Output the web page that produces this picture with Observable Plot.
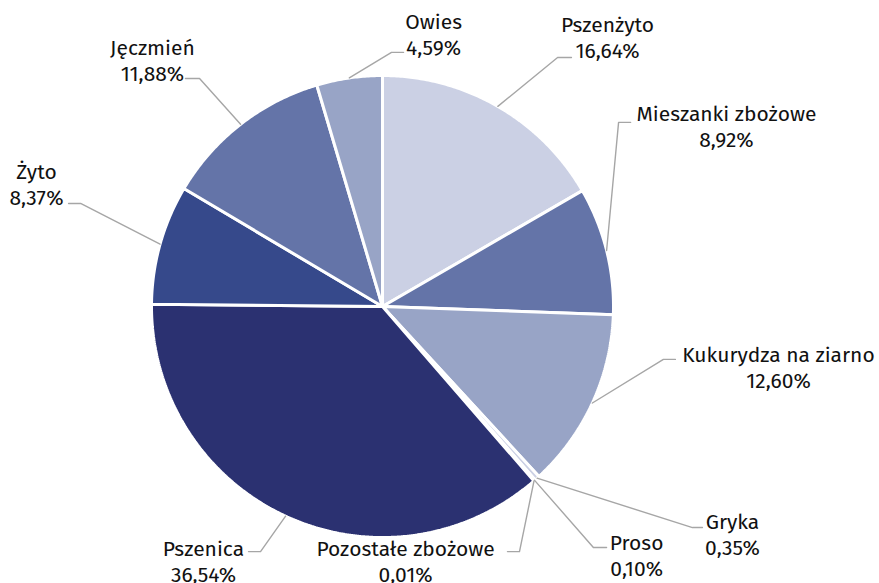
<!DOCTYPE html>
<html><head><meta charset="utf-8">
<script src="https://cdn.jsdelivr.net/npm/d3@7"></script>
<script src="https://cdn.jsdelivr.net/npm/@observablehq/plot@0.6"></script>
<style>body{margin:0;background:#fff}</style>
</head><body><div id="chart"></div>
<script>
// ---- data ----
const categories = ["Pszenżyto","Mieszanki zbożowe","Kukurydza na ziarno","Gryka","Proso","Pozostałe zbożowe","Pszenica","Żyto","Jęczmień","Owies"];
const shares = [16.64, 8.92, 12.60, 0.35, 0.10, 0.01, 36.54, 8.37, 11.88, 4.59];
const sliceColors = ["#cbd0e4","#6474a8","#98a4c6","#cbd0e4","#6474a8","#2b3171","#2b3171","#36498b","#6474a8","#98a4c6"];

// ---- label layout (in pie-radius units, y up) ----
const labelAt = [[0.974,1.167],[1.489,0.781],[1.714,-0.262],[1.515,-0.983],[1.100,-1.074],[0.100,-1.102],[-0.775,-1.102],[-1.498,0.532],[-0.996,1.069],[0.221,1.180]];
const elbowAt = [[0.758,1.078],[1.022,0.797],[1.216,-0.229],[1.342,-0.957],[0.913,-1.043],[0.593,-1.061],[-0.528,-1.061],[-1.307,0.446],[-0.792,0.987],[0.039,1.100]];
const endAt   = [[0.818,1.078],[1.074,0.797],[1.268,-0.229],[1.385,-0.957],[0.970,-1.043],[0.541,-1.061],[-0.580,-1.061],[-1.359,0.446],[-0.853,0.987],[0.091,1.100]];

const W = 879, H = 583, CX = 382, CY = 306, R = 231;

const fmt = v => d3.format(".2f")(v).replace(".", ",") + "%";
const arcs = d3.pie().sort(null).value(d => d)(shares);

const slicePts = [];
arcs.forEach((a, i) => {
  const n = Math.max(2, Math.ceil((a.endAngle - a.startAngle) / (Math.PI / 360)));
  slicePts.push({name: categories[i], color: sliceColors[i], x: 0, y: 0});
  for (let k = 0; k <= n; k++) {
    const t = a.startAngle + (a.endAngle - a.startAngle) * k / n;
    slicePts.push({name: categories[i], color: sliceColors[i], x: Math.sin(t), y: Math.cos(t)});
  }
});

const leaderPts = [];
arcs.forEach((a, i) => {
  const m = (a.startAngle + a.endAngle) / 2;
  leaderPts.push({name: categories[i], x: Math.sin(m), y: Math.cos(m)});
  leaderPts.push({name: categories[i], x: elbowAt[i][0], y: elbowAt[i][1]});
  leaderPts.push({name: categories[i], x: endAt[i][0], y: endAt[i][1]});
});

const labelRows = categories.map((c, i) => ({x: labelAt[i][0], y: labelAt[i][1], text: c + "\n" + fmt(shares[i])}));

const chart = Plot.plot({
  width: W, height: H, margin: 0,
  style: {fontFamily: "'Fira Sans', Roboto, 'Noto Sans', sans-serif", background: "#fff"},
  x: {domain: [-CX / R, (W - CX) / R], axis: null},
  y: {domain: [-(H - CY) / R, CY / R], axis: null},
  color: {type: "identity"},
  marks: [
    Plot.line(slicePts, {x: "x", y: "y", z: "name", fill: "color", stroke: "white", strokeWidth: 3, curve: "linear-closed", strokeLinejoin: "miter"}),
    Plot.line(leaderPts, {x: "x", y: "y", z: "name", stroke: "#a6a6a6", strokeWidth: 1.4}),
    Plot.text(labelRows, {x: "x", y: "y", text: "text", fontSize: 21, lineHeight: 1.22, textAnchor: "middle", lineAnchor: "middle", fill: "#111"})
  ]
});
document.getElementById("chart").appendChild(chart);
</script>
</body></html>
